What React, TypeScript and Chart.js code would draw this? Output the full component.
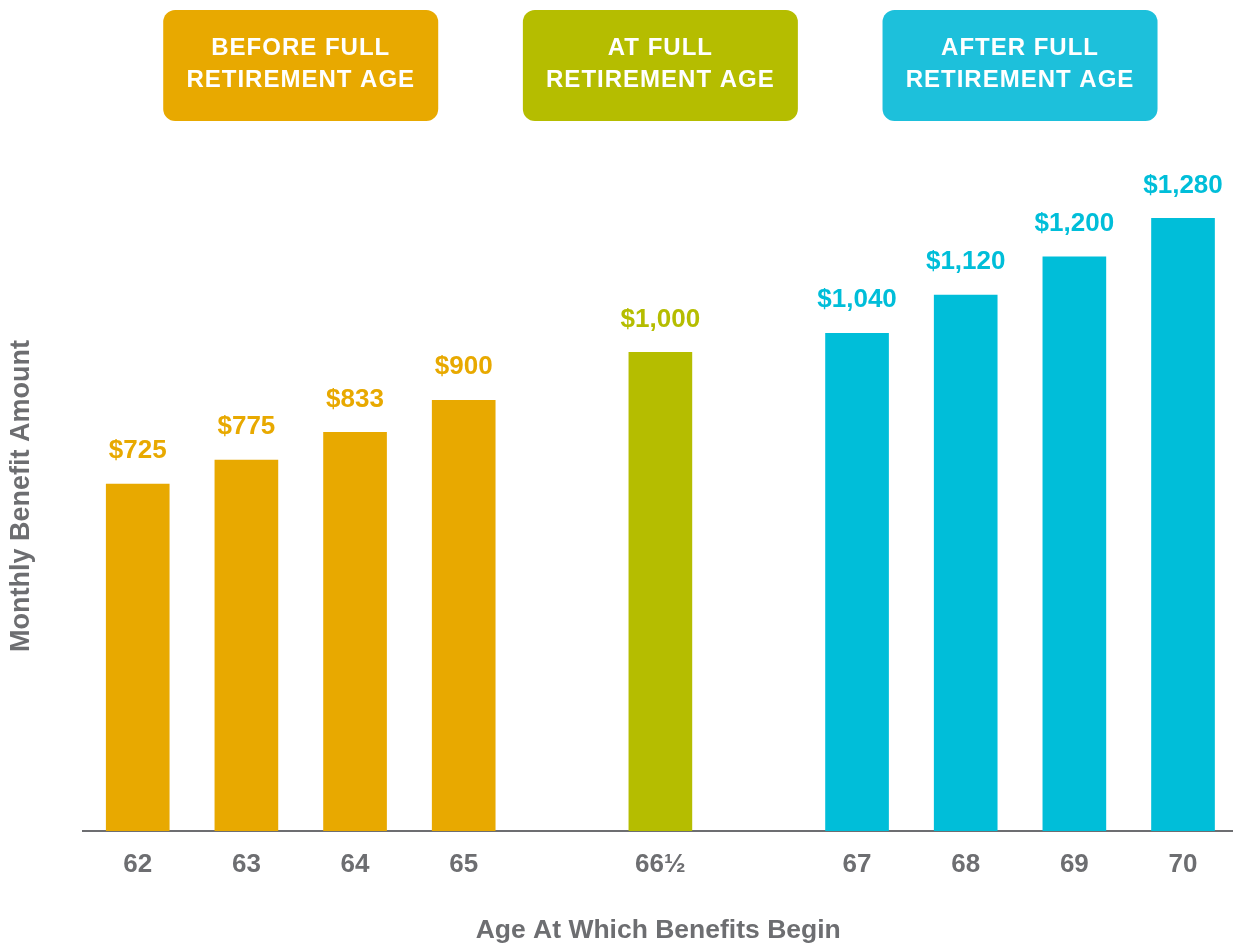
import React, { useEffect, useRef } from "react";
import { Chart, registerables } from "chart.js";

Chart.register(...registerables);

// ---- Data ----
const ages = ["62", "63", "64", "65", "66½", "67", "68", "69", "70"];
const benefits = [725, 775, 833, 900, 1000, 1040, 1120, 1200, 1280];
const groupOf = [0, 0, 0, 0, 1, 2, 2, 2, 2];
const groupNames = [
  ["BEFORE FULL", "RETIREMENT AGE"],
  ["AT FULL", "RETIREMENT AGE"],
  ["AFTER FULL", "RETIREMENT AGE"],
];
const valueLabels = benefits.map((v) => "$" + v.toLocaleString("en-US"));

// ---- Styles / layout ----
const barColors = ["#E8A900", "#B5BD00", "#00BED9"];
const headerColors = ["#E8A900", "#B5BD00", "#1DC0DB"];
const GRAY = "#6D6E71";
const FAMILY = "'Liberation Sans', Arial, Helvetica, sans-serif";
const GROUP_GAP = 0.81;
const positions = ages.map((_, i) => i + groupOf[i] * GROUP_GAP);

const overlayPlugin = {
  id: "overlay",
  afterDatasetsDraw(chart: any) {
    const ctx = chart.ctx as CanvasRenderingContext2D;
    const meta = chart.getDatasetMeta(0);
    ctx.save();
    ctx.textAlign = "center";
    ctx.textBaseline = "middle";
    ctx.font = `bold 26px ${FAMILY}`;
    meta.data.forEach((bar: any, i: number) => {
      ctx.fillStyle = barColors[groupOf[i]];
      ctx.fillText(valueLabels[i], bar.x, bar.y - 33);
    });
    const xs = chart.scales.x;
    groupNames.forEach((lines, g) => {
      const idx = groupOf.map((gg, i) => (gg === g ? i : -1)).filter((i) => i >= 0);
      const first = xs.getPixelForValue(positions[idx[0]]);
      const last = xs.getPixelForValue(positions[idx[idx.length - 1]]);
      const cx = (first + last) / 2;
      ctx.fillStyle = headerColors[g];
      ctx.beginPath();
      (ctx as any).roundRect(cx - 137.5, 10, 275, 111, 12);
      ctx.fill();
      ctx.fillStyle = "#FFFFFF";
      ctx.font = `bold 24px ${FAMILY}`;
      (ctx as any).letterSpacing = "1px";
      ctx.fillText(lines[0], cx, 48);
      ctx.fillText(lines[1], cx, 80);
    });
    ctx.restore();
  },
};

export default function App() {
  const canvasRef = useRef<HTMLCanvasElement | null>(null);

  useEffect(() => {
    if (!canvasRef.current) return;
    const chart = new Chart(canvasRef.current, {
      type: "bar",
      data: {
        datasets: [
          {
            data: benefits.map((v, i) => ({ x: positions[i], y: v })),
            backgroundColor: groupOf.map((g) => barColors[g]),
            barThickness: 63,
            borderWidth: 0,
          },
        ],
      },
      options: {
        animation: false,
        responsive: false,
        devicePixelRatio: 1,
        layout: { padding: { top: 161, left: 0, right: 0, bottom: 0 } },
        plugins: {
          legend: { display: false },
          tooltip: { enabled: false },
        },
        scales: {
          x: {
            type: "linear",
            offset: false,
            min: -0.5,
            max: 10.08,
            afterBuildTicks: (scale: any) => {
              scale.ticks = positions.map((v) => ({ value: v }));
            },
            ticks: {
              callback: (_v: any, idx: number) => ages[idx],
              font: { size: 26, weight: "bold", family: FAMILY },
              color: GRAY,
              padding: 18,
              autoSkip: false,
              maxRotation: 0,
            },
            grid: { display: false, drawTicks: false },
            border: { display: true, color: GRAY, width: 2 },
            title: {
              display: true,
              text: "Age At Which Benefits Begin",
              font: { size: 26.5, weight: "bold", family: FAMILY },
              color: GRAY,
              padding: { top: 17, bottom: 0 },
            },
          },
          y: {
            min: 0,
            max: 1400,
            ticks: { display: false },
            grid: { display: false, drawTicks: false },
            border: { display: false },
            title: {
              display: true,
              text: "Monthly Benefit Amount",
              font: { size: 27, weight: "bold", family: FAMILY },
              color: GRAY,
              padding: { top: 5, bottom: 46 },
            },
          },
        },
      } as any,
      plugins: [overlayPlugin],
    });
    return () => chart.destroy();
  }, []);

  return (
    <div style={{ position: "fixed", left: 0, top: 0, width: 1233, height: 947, background: "#fff" }}>
      <canvas ref={canvasRef} width={1233} height={947} />
    </div>
  );
}
